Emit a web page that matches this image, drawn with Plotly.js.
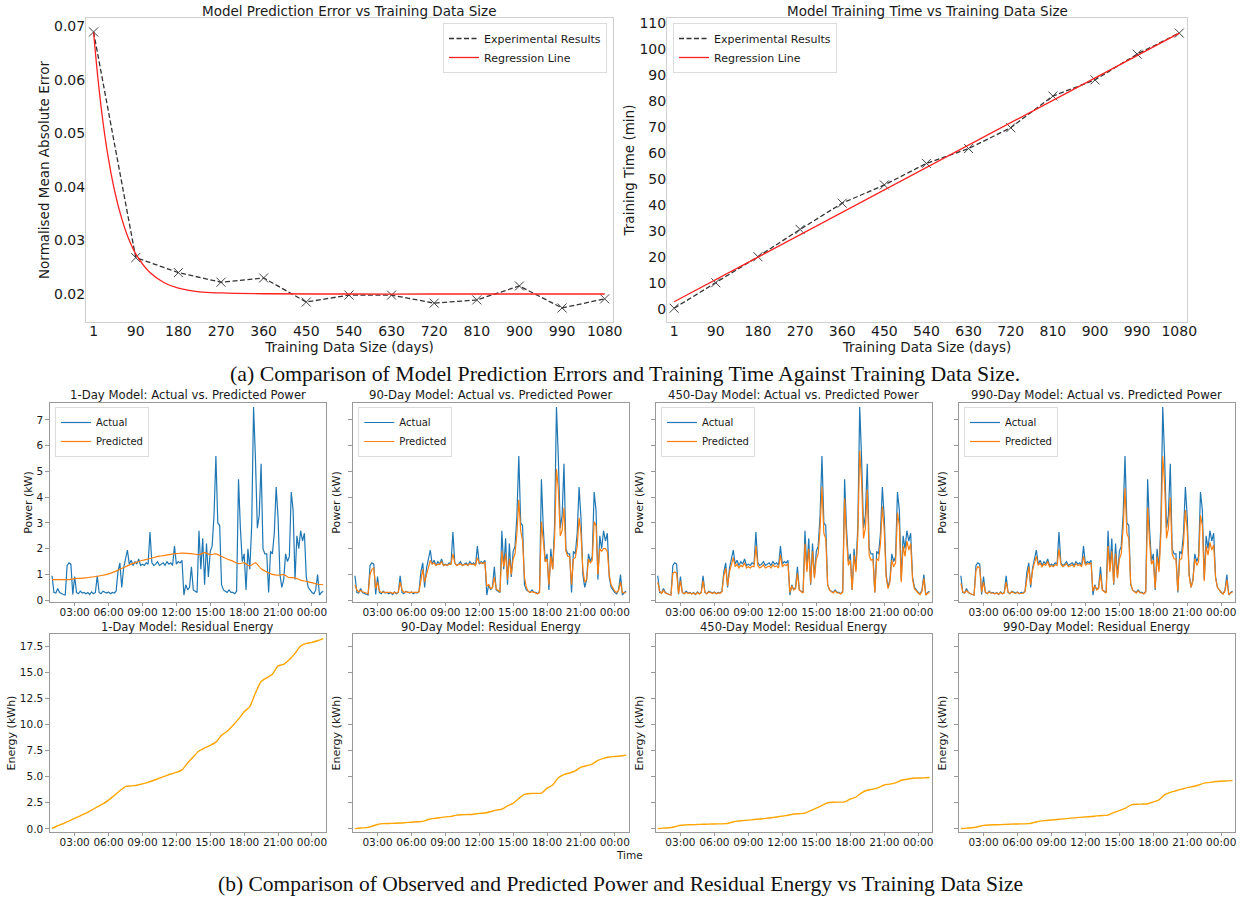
<!DOCTYPE html>
<html>
<head>
<meta charset="utf-8">
<script src="https://cdn.plot.ly/plotly-3.0.1.min.js"></script>
<style>html,body{margin:0;padding:0;background:#fff;}#chart{width:1248px;height:900px;}</style>
</head>
<body>
<div id="chart"></div>
<script>
// ---------- (a) top charts ----------
const days = [1,90,180,270,360,450,540,630,720,810,900,990,1080];
const maeExp = [0.0689,0.0268,0.0240,0.0222,0.0230,0.0185,0.0198,0.0198,0.0183,0.0189,0.0215,0.0174,0.0191];
const maeRegDays = [1,10,20,30,45,60,75,90,120,150,180,225,270,360,540,720,900,1080];
const maeReg = [0.0688,0.0604,0.0527,0.0465,0.0394,0.0342,0.0303,0.0275,0.0240,0.0221,0.0211,0.0204,0.0202,0.02005,0.0200,0.0200,0.0200,0.0200];
const trainTimeExp = [0.4,10.2,20.2,30.7,40.8,47.8,56.1,61.8,69.8,82.0,88.2,98.1,106.2];
const trainRegDays = [1,1080];
const trainReg = [2.9,106.2];

// ---------- (b) power series, 10-minute samples from 01:00 to 01:00 next day ----------
const actualPower = [0.95,0.3,0.28,0.45,0.3,0.25, 0.22,0.2,1.35,1.45,1.4,0.22, 0.92,0.3,0.25,0.35,0.28,0.3,
 0.25,0.3,0.22,0.32,0.25,0.3, 0.95,0.3,0.25,0.35,0.3,0.28, 0.32,0.25,0.3,0.28,0.35,1.1,
 1.45,0.5,1.25,1.6,1.95,1.4, 1.55,1.35,1.5,1.4,1.6,1.35, 1.4,1.35,1.45,1.4,2.65,1.45,
 1.35,1.4,1.5,1.35,1.4,1.45, 1.35,1.5,1.4,1.45,1.35,2.1, 1.4,1.5,1.45,1.55,0.2,0.6,
 0.4,0.5,1.3,0.4,0.35,0.3, 2.7,1.2,2.4,0.6,2.2,0.9, 1.9,2.1,3.3,5.6,3.0,2.9,
 0.6,0.4,0.35,0.3,0.4,0.3, 0.3,0.25,0.35,4.7,2.8,1.5, 1.8,0.4,2.0,1.2,2.9,7.5,
 5.5,2.8,3.3,5.3,2.0,1.8, 1.8,0.3,1.9,1.8,2.6,4.4, 3.2,1.0,0.5,0.8,1.8,1.5,
 1.7,4.2,3.5,0.8,2.5,2.0, 2.7,2.3,2.6,0.9,0.5,0.4, 0.3,0.25,0.4,1.0,0.2,0.3,0.35];
const pred90 = [0.6,0.4,0.32,0.38,0.33,0.3, 0.28,0.25,1.0,1.2,1.25,0.45, 0.7,0.35,0.3,0.32,0.3,0.3,
 0.28,0.3,0.27,0.3,0.28,0.3, 0.7,0.4,0.3,0.33,0.3,0.3, 0.3,0.28,0.3,0.3,0.33,0.8,
 1.2,0.7,1.0,1.35,1.55,1.4, 1.45,1.35,1.4,1.38,1.5,1.35, 1.38,1.35,1.4,1.4,1.8,1.45,
 1.35,1.38,1.42,1.35,1.38,1.4, 1.35,1.42,1.38,1.4,1.35,1.65, 1.45,1.45,1.42,1.48,0.55,0.6,
 0.45,0.48,0.9,0.45,0.38,0.33, 1.9,1.3,1.8,0.8,1.6,1.0, 1.6,1.8,2.6,3.9,2.7,2.3,
 0.9,0.5,0.35,0.3,0.33,0.3, 0.28,0.25,0.3,3.05,2.3,1.5, 1.6,0.6,1.7,1.2,2.4,5.1,
 4.3,2.5,2.7,3.6,1.9,1.7, 1.7,0.6,1.6,1.65,2.1,3.2, 2.6,1.2,0.7,0.8,1.6,1.45,
 1.55,3.05,2.9,1.0,2.0,1.9, 2.0,2.0,1.9,1.0,0.6,0.45, 0.35,0.3,0.38,0.7,0.3,0.28,0.3];
const pred450 = [0.7,0.35,0.27,0.38,0.28,0.24, 0.22,0.2,1.05,1.1,1.05,0.25, 0.75,0.3,0.25,0.3,0.27,0.28,
 0.24,0.28,0.22,0.3,0.24,0.28, 0.75,0.3,0.25,0.32,0.28,0.27, 0.3,0.25,0.28,0.27,0.33,0.95,
 1.25,0.55,1.1,1.4,1.65,1.3, 1.4,1.25,1.35,1.3,1.45,1.25, 1.3,1.25,1.32,1.3,2.1,1.35,
 1.25,1.3,1.38,1.25,1.3,1.33, 1.25,1.38,1.3,1.33,1.25,1.75, 1.3,1.38,1.35,1.42,0.3,0.55,
 0.4,0.45,1.05,0.4,0.33,0.28, 2.2,1.1,2.0,0.65,1.9,0.85, 1.6,1.8,2.8,4.4,2.6,2.4,
 0.6,0.4,0.33,0.28,0.36,0.28, 0.28,0.24,0.32,3.95,2.4,1.35, 1.55,0.4,1.75,1.1,2.5,5.8,
 4.6,2.4,2.8,4.3,1.75,1.55, 1.6,0.3,1.6,1.55,2.2,3.65, 2.7,0.9,0.45,0.7,1.55,1.3,
 1.45,3.4,2.9,0.7,2.1,1.7, 2.3,1.95,2.2,0.8,0.45,0.35, 0.28,0.22,0.35,0.85,0.2,0.27,0.3];
const pred990 = [0.65,0.33,0.28,0.38,0.3,0.25, 0.22,0.2,1.15,1.3,1.25,0.3, 0.7,0.3,0.26,0.32,0.28,0.28,
 0.25,0.28,0.23,0.3,0.25,0.28, 0.7,0.32,0.26,0.33,0.28,0.27, 0.3,0.26,0.28,0.27,0.33,0.9,
 1.3,0.6,1.15,1.45,1.7,1.35, 1.45,1.3,1.4,1.35,1.5,1.3, 1.35,1.3,1.38,1.35,2.0,1.4,
 1.3,1.35,1.42,1.3,1.35,1.38, 1.3,1.42,1.35,1.38,1.3,1.7, 1.35,1.42,1.4,1.45,0.35,0.55,
 0.4,0.45,1.0,0.4,0.33,0.28, 2.1,1.1,1.9,0.65,1.8,0.85, 1.6,1.8,2.8,4.35,2.6,2.4,
 0.65,0.4,0.33,0.28,0.36,0.28, 0.28,0.24,0.32,3.6,2.3,1.4, 1.55,0.45,1.7,1.1,2.5,5.6,
 4.5,2.4,2.8,4.0,1.8,1.6, 1.6,0.35,1.6,1.6,2.2,3.5, 2.7,0.95,0.5,0.75,1.6,1.35,
 1.5,3.3,2.9,0.75,2.1,1.75, 2.25,1.95,2.15,0.85,0.5,0.38, 0.3,0.24,0.36,0.8,0.22,0.28,0.32];

// ---------- 30-minute samples from 01:00 to 01:00 next day ----------
const pred1 = [0.8,0.8,0.8,0.8,0.84,0.85,0.87,0.9,0.93,0.97,1.02,1.1,1.2,1.3,1.4,1.48,1.55,1.6,1.66,1.71,
 1.74,1.78,1.81,1.83,1.82,1.8,1.77,1.85,1.77,1.8,1.7,1.6,1.52,1.42,1.45,1.33,1.45,1.22,1.1,1.0,
 0.97,0.99,0.88,0.87,0.78,0.73,0.68,0.62,0.6];
const res1 = [0.05,0.3,0.5,0.75,1.0,1.25,1.5,1.8,2.1,2.4,2.75,3.2,3.65,4.05,4.12,4.18,4.3,4.45,4.65,4.85,
 5.05,5.25,5.4,5.65,6.3,6.9,7.45,7.75,8.0,8.3,8.95,9.35,9.9,10.5,11.2,11.7,13.0,14.1,14.45,14.8,
 15.6,15.75,16.2,16.8,17.5,17.75,17.85,18.0,18.2];
const res90 = [0.02,0.08,0.12,0.25,0.42,0.5,0.52,0.54,0.56,0.6,0.64,0.68,0.72,0.9,1.0,1.07,1.15,1.2,1.32,1.35,
 1.37,1.4,1.48,1.52,1.65,1.8,1.88,2.2,2.45,2.9,3.3,3.38,3.4,3.42,3.9,4.2,4.9,5.2,5.35,5.55,
 5.9,6.05,6.2,6.55,6.75,6.88,6.92,6.97,7.05];
const res450 = [0.03,0.07,0.1,0.2,0.35,0.38,0.4,0.42,0.44,0.45,0.47,0.48,0.5,0.62,0.74,0.79,0.84,0.89,0.95,1.0,
 1.07,1.14,1.22,1.3,1.42,1.45,1.5,1.75,1.98,2.25,2.5,2.55,2.56,2.58,2.85,3.05,3.45,3.7,3.8,3.95,
 4.2,4.28,4.4,4.65,4.75,4.85,4.87,4.88,4.92];
const res990 = [0.03,0.07,0.1,0.2,0.33,0.37,0.39,0.41,0.43,0.45,0.47,0.48,0.5,0.62,0.74,0.8,0.85,0.9,0.96,1.0,
 1.05,1.1,1.14,1.18,1.24,1.28,1.32,1.55,1.75,1.95,2.28,2.35,2.37,2.4,2.58,2.78,3.25,3.5,3.65,3.8,
 3.95,4.05,4.2,4.38,4.45,4.53,4.56,4.59,4.62];

const modelNames = ['1-Day','90-Day','450-Day','990-Day'];
const predSeries = [null, pred90, pred450, pred990];
const resSeries = [res1, res90, res450, res990];

// time stamps
function pad(n){return (n<10?'0':'')+n;}
function stampMin(m){const d=Math.floor(m/1440);const r=m-d*1440;return '2024-01-0'+(1+d)+' '+pad(Math.floor(r/60))+':'+pad(r%60);}
const t10 = actualPower.map((_,i)=>stampMin(60+i*10));
const t30 = res1.map((_,i)=>stampMin(60+i*30));

const W=1248,H=900;
const fx = p=>p/W, fy = p=>1-p/H;
const FONT = 'DejaVu Sans, sans-serif';
const TXT = '#1a1a1a';

const cols = [[49.8,325.7],[352.7,628.6],[655.5,932],[958.6,1235]];
const row1 = [403,602], row2=[634,832];

const traces = [];
// top-left
traces.push({x:days,y:maeExp,type:'scatter',mode:'lines',name:'Experimental Results',line:{color:'#333',width:1.3,dash:'5px,2.5px'},xaxis:'x',yaxis:'y',legend:'legend'});
traces.push({x:days,y:maeExp,type:'scatter',mode:'markers',showlegend:false,marker:{symbol:'x-thin-open',size:9,color:'#444',line:{width:1,color:'#444'}},xaxis:'x',yaxis:'y',hoverinfo:'skip'});
traces.push({x:maeRegDays,y:maeReg,type:'scatter',mode:'lines',line:{color:'#ff2020',width:1.3,shape:'spline'},name:'Regression Line',xaxis:'x',yaxis:'y',legend:'legend'});
// top-right
traces.push({x:days,y:trainTimeExp,type:'scatter',mode:'lines',name:'Experimental Results',line:{color:'#333',width:1.3,dash:'5px,2.5px'},xaxis:'x2',yaxis:'y2',legend:'legend2'});
traces.push({x:days,y:trainTimeExp,type:'scatter',mode:'markers',showlegend:false,marker:{symbol:'x-thin-open',size:9,color:'#444',line:{width:1,color:'#444'}},xaxis:'x2',yaxis:'y2',hoverinfo:'skip'});
traces.push({x:trainRegDays,y:trainReg,type:'scatter',mode:'lines',line:{color:'#ff2020',width:1.3},name:'Regression Line',xaxis:'x2',yaxis:'y2',legend:'legend2'});

for(let k=0;k<4;k++){
  const ax = 3+k, ax2 = 7+k;
  const lg = 'legend'+(3+k);
  traces.push({x:t10,y:actualPower,type:'scatter',mode:'lines',name:'Actual',line:{color:'#1f77b4',width:1.2},xaxis:'x'+ax,yaxis:'y'+ax,legend:lg});
  if(k===0){
    traces.push({x:t30,y:pred1,type:'scatter',mode:'lines',name:'Predicted',line:{color:'#ff7f0e',width:1.2,shape:'spline'},xaxis:'x'+ax,yaxis:'y'+ax,legend:lg});
  } else {
    traces.push({x:t10,y:predSeries[k],type:'scatter',mode:'lines',name:'Predicted',line:{color:'#ff7f0e',width:1.2},xaxis:'x'+ax,yaxis:'y'+ax,legend:lg});
  }
  traces.push({x:t30,y:resSeries[k],type:'scatter',mode:'lines',showlegend:false,line:{color:'#ffa500',width:1.4,shape:'spline',smoothing:0.6},xaxis:'x'+ax2,yaxis:'y'+ax2});
}

const layout = {
  width:W,height:H,margin:{l:0,r:0,t:0,b:0},paper_bgcolor:'#fff',plot_bgcolor:'#fff',
  font:{family:FONT,color:TXT,size:11},
  showlegend:true,
  annotations:[],
};

function topAxisX(domain, anchor, range){
  return {domain:domain,anchor:anchor,range:range,tickmode:'array',tickvals:days,ticktext:days.map(String),
    showline:true,mirror:true,linecolor:'#d0d0d0',linewidth:1,ticks:'',ticklabelstandoff:-4,
    showgrid:false,zeroline:false,tickfont:{size:14,family:FONT,color:TXT},
    title:{text:'Training Data Size (days)',font:{size:13.5,family:FONT,color:TXT},standoff:0}};
}
layout.xaxis = topAxisX([fx(86),fx(613)],'y',[-15,1097.5]);
layout.yaxis = {domain:[fy(322),fy(18)],anchor:'x',range:[0.01478,0.0715],tickmode:'array',tickvals:[0.02,0.03,0.04,0.05,0.06,0.07],
  ticktext:['0.02','0.03','0.04','0.05','0.06','0.07'],showline:true,mirror:true,linecolor:'#d0d0d0',ticks:'',ticklabelstandoff:-3,
  showgrid:false,zeroline:false,tickfont:{size:14,family:FONT,color:TXT},
  title:{text:'Normalised Mean Absolute Error',font:{size:13.5,family:FONT,color:TXT},standoff:1}};
layout.xaxis2 = topAxisX([fx(667),fx(1187)],'y2',[-14.2,1096.5]);
layout.yaxis2 = {domain:[fy(322),fy(18)],anchor:'x2',range:[-4.9,112],tickmode:'array',tickvals:[0,10,20,30,40,50,60,70,80,90,100,110],
  showline:true,mirror:true,linecolor:'#d0d0d0',ticks:'',ticklabelstandoff:-3,
  showgrid:false,zeroline:false,tickfont:{size:14,family:FONT,color:TXT},
  title:{text:'Training Time (min)',font:{size:13.5,family:FONT,color:TXT},standoff:1}};

const timeRange = ['2024-01-01 00:48','2024-01-02 01:13'];
for(let k=0;k<4;k++){
  const c = cols[k];
  for(const [n,row,isPow] of [[3+k,row1,true],[7+k,row2,false]]){
    layout['xaxis'+n] = {domain:[fx(c[0]),fx(c[1])],anchor:'y'+n,type:'date',range:timeRange,
      tick0:'2024-01-01 00:00',dtick:3*3600*1000,tickformat:'%H:%M',
      showline:true,mirror:true,linecolor:'#999',linewidth:1,ticks:'outside',ticklen:3,tickcolor:'#999',ticklabelstandoff:-3,
      showgrid:false,zeroline:false,tickfont:{size:10.5,family:FONT,color:TXT}};
    const ya = {domain:[fy(row[1]),fy(row[0])],anchor:'x'+n,
      showline:true,mirror:true,linecolor:'#999',linewidth:1,ticks:'outside',ticklen:3.5,tickcolor:'#999',
      showgrid:false,zeroline:false,showticklabels:k===0,tickfont:{size:10.5,family:FONT,color:TXT},
      title:{text:isPow?'Power (kW)':'Energy (kWh)',font:{size:11,family:FONT,color:TXT},standoff:k===0?1:5}};
    if(isPow){ ya.range=[-0.07,7.66]; ya.tickmode='array'; ya.tickvals=[0,1,2,3,4,5,6,7]; }
    else { ya.range=[-0.3,18.65]; ya.tickmode='array'; ya.tickvals=[0,2.5,5,7.5,10,12.5,15,17.5]; ya.ticktext=['0.0','2.5','5.0','7.5','10.0','12.5','15.0','17.5']; }
    layout['yaxis'+n] = ya;
  }
  layout.annotations.push({text:modelNames[k]+' Model: Actual vs. Predicted Power',x:fx((c[0]+c[1])/2),y:fy(395),xref:'paper',yref:'paper',
    xanchor:'center',yanchor:'middle',showarrow:false,font:{size:11.7,family:FONT,color:TXT}});
  layout.annotations.push({text:modelNames[k]+' Model: Residual Energy',x:fx((c[0]+c[1])/2),y:fy(626.5),xref:'paper',yref:'paper',
    xanchor:'center',yanchor:'middle',showarrow:false,font:{size:11.5,family:FONT,color:TXT}});
}

const legTop = {bgcolor:'rgba(255,255,255,0.9)',bordercolor:'#dcdcdc',borderwidth:1,font:{size:11,family:FONT,color:TXT},tracegroupgap:0,yanchor:'top',itemwidth:30};
layout.legend = Object.assign({},legTop,{x:fx(607),xanchor:'right',y:fy(23)});
layout.legend2 = Object.assign({},legTop,{x:fx(673),xanchor:'left',y:fy(23)});
const legPow = {bgcolor:'rgba(255,255,255,0.9)',bordercolor:'#dcdcdc',borderwidth:1,font:{size:10,family:FONT,color:TXT},tracegroupgap:0,yanchor:'top',xanchor:'left',itemwidth:30};
layout.legend3 = Object.assign({},legPow,{x:fx(55),y:fy(407)});
layout.legend4 = Object.assign({},legPow,{x:fx(358.3),y:fy(407)});
layout.legend5 = Object.assign({},legPow,{x:fx(661),y:fy(407)});
layout.legend6 = Object.assign({},legPow,{x:fx(964),y:fy(407)});

layout.annotations.push({text:'Model Prediction Error vs Training Data Size',x:fx(349.5),y:fy(11),xref:'paper',yref:'paper',xanchor:'center',yanchor:'middle',showarrow:false,font:{size:13.5,family:FONT,color:TXT}});
layout.annotations.push({text:'Model Training Time vs Training Data Size',x:fx(927),y:fy(11),xref:'paper',yref:'paper',xanchor:'center',yanchor:'middle',showarrow:false,font:{size:13.5,family:FONT,color:TXT}});
layout.annotations.push({text:'(a) Comparison of Model Prediction Errors and Training Time Against Training Data Size.',x:fx(625),y:fy(374),xref:'paper',yref:'paper',xanchor:'center',yanchor:'middle',showarrow:false,font:{size:21.8,family:'Liberation Serif, serif',color:'#111'}});
layout.annotations.push({text:'(b) Comparison of Observed and Predicted Power and Residual Energy vs Training Data Size',x:fx(620),y:fy(884),xref:'paper',yref:'paper',xanchor:'center',yanchor:'middle',showarrow:false,font:{size:21.5,family:'Liberation Serif, serif',color:'#111'}});
layout.annotations.push({text:'Time',x:fx(629),y:fy(855),xref:'paper',yref:'paper',xanchor:'center',yanchor:'middle',showarrow:false,font:{size:10.5,family:FONT,color:TXT}});

Plotly.newPlot('chart',traces,layout,{displayModeBar:false,staticPlot:true});
</script>
</body>
</html>
